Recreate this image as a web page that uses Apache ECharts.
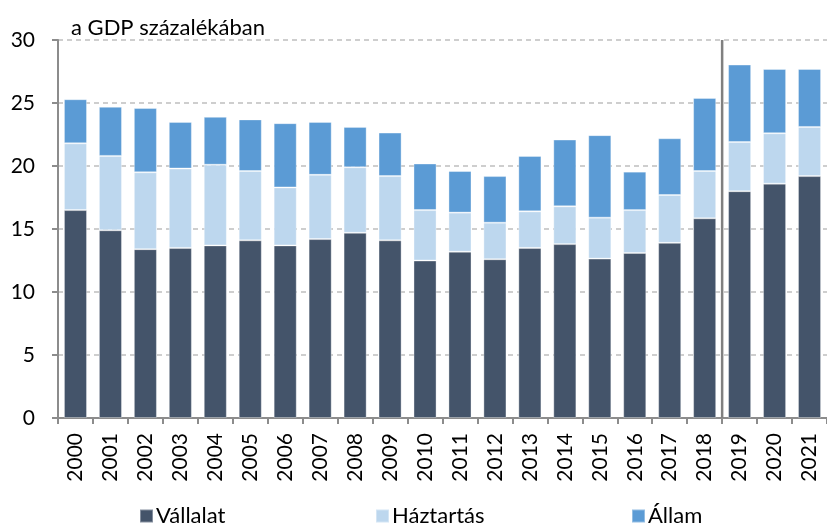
<!DOCTYPE html>
<html>
<head>
<meta charset="utf-8">
<script src="https://cdn.jsdelivr.net/npm/echarts@6/dist/echarts.min.js"></script>
<style>
  html, body { margin: 0; padding: 0; background: #ffffff; }
  #chart { width: 827px; height: 526px; }
</style>
</head>
<body>
<div id="chart"></div>
<script>
// Years on the category axis
const years = ['2000','2001','2002','2003','2004','2005','2006','2007','2008','2009','2010',
               '2011','2012','2013','2014','2015','2016','2017','2018','2019','2020','2021'];

// Debt by sector, % of GDP
const vallalat  = [16.5, 14.9, 13.4, 13.5, 13.7, 14.1, 13.7, 14.2, 14.7, 14.1, 12.5,
                   13.2, 12.6, 13.5, 13.8, 12.65, 13.1, 13.9, 15.85, 18.0, 18.6, 19.2];
const haztartas = [5.3, 5.9, 6.1, 6.3, 6.4, 5.5, 4.6, 5.1, 5.2, 5.1, 4.0,
                   3.1, 2.9, 2.9, 3.0, 3.25, 3.4, 3.8, 3.75, 3.9, 4.0, 3.9];
const allam     = [3.5, 3.9, 5.1, 3.7, 3.8, 4.1, 5.1, 4.2, 3.2, 3.45, 3.7,
                   3.3, 3.7, 4.4, 5.3, 6.55, 3.05, 4.5, 5.8, 6.15, 5.1, 4.6];

// Y axis range and step
const yMin = 0, yMax = 30, yStep = 5;
// Separator between 2018 and 2019 (position in category units)
const separatorAt = 19;

const FONT = 'Lato';
const TEXT = '#000000';

const chart = echarts.init(document.getElementById('chart'), null, { renderer: 'canvas' });

function legendAt(left, name) {
  return {
    data: [name],
    left: left,
    top: 500,
    itemWidth: 13,
    itemHeight: 13,
    itemGap: 0,
    icon: 'rect',
    textStyle: { fontFamily: FONT, fontSize: 22, color: TEXT, padding: [0, 0, 0, -2] },
    selectedMode: false
  };
}

chart.setOption({
  animation: false,
  backgroundColor: '#ffffff',
  title: {
    text: 'a GDP százalékában',
    left: 66,
    top: 12,
    textStyle: { fontFamily: FONT, fontSize: 22, fontWeight: 'normal', color: TEXT }
  },
  legend: [
    legendAt(134, 'Vállalat'),
    legendAt(370, 'Háztartás'),
    legendAt(626, 'Állam')
  ],
  grid: { left: 58, right: -5, top: 40, bottom: 108, containLabel: false },
  xAxis: [
    {
      type: 'category',
      data: years,
      boundaryGap: true,
      axisLine: { show: true, lineStyle: { color: '#8c8c8c', width: 2 } },
      axisTick: { show: true, alignWithLabel: false, length: 6, lineStyle: { color: '#8c8c8c', width: 2 } },
      axisLabel: {
        rotate: 90,
        margin: 15,
        fontFamily: FONT,
        fontSize: 21,
        color: TEXT,
        interval: 0
      },
      splitLine: { show: false }
    },
    {
      type: 'value',
      min: 0,
      max: years.length,
      show: false
    }
  ],
  yAxis: {
    type: 'value',
    min: yMin,
    max: yMax,
    interval: yStep,
    axisLine: { show: true, lineStyle: { color: '#8c8c8c', width: 2 } },
    axisTick: { show: true, length: 6, lineStyle: { color: '#8c8c8c', width: 2 } },
    axisLabel: { margin: 23, fontFamily: FONT, fontSize: 21, color: TEXT },
    splitLine: { show: true, lineStyle: { color: '#bfbfbf', type: [5, 4], width: 1.5 } }
  },
  series: [
    {
      name: 'Vállalat', type: 'bar', stack: 'total', data: vallalat,
      barWidth: '66%',
      itemStyle: { color: '#44546a', borderColor: 'rgba(255,255,255,0.35)', borderWidth: 1 }
    },
    {
      name: 'Háztartás', type: 'bar', stack: 'total', data: haztartas,
      barWidth: '66%',
      itemStyle: { color: '#bdd7ee', borderColor: 'rgba(255,255,255,0.35)', borderWidth: 1 }
    },
    {
      name: 'Állam', type: 'bar', stack: 'total', data: allam,
      barWidth: '66%',
      itemStyle: { color: '#5b9bd5', borderColor: 'rgba(255,255,255,0.35)', borderWidth: 1 }
    },
    {
      name: 'separator', type: 'line', xAxisIndex: 1,
      data: [[separatorAt, yMin], [separatorAt, yMax]],
      symbol: 'none',
      lineStyle: { color: '#808080', width: 2.5 },
      silent: true,
      z: 5
    }
  ]
});
</script>
</body>
</html>
